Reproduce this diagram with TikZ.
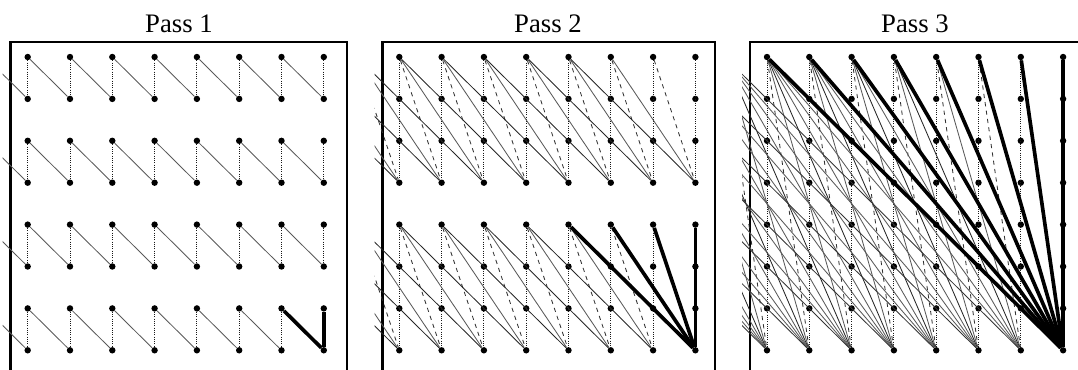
\documentclass[tikz,border=0pt]{standalone}
\usepackage{fontspec}
\setmainfont{Liberation Serif}

\begin{document}
\begin{tikzpicture}[x=0.025cm, y=-0.025cm,
    dot/.style={circle, fill=black, inner sep=0pt, minimum size=0.16cm},
    frame/.style={draw, line width=1.6pt},
    title/.style={font=\fontsize{19}{22}\selectfont},
    wire/.style={line width=0.6pt, black!65},
    lane0/.style={densely dotted, black!90},
    lane1/.style={dashed, black!80},
    lane2/.style={}, lane3/.style={black!85}, lane4/.style={},
    lane5/.style={}, lane6/.style={}, lane7/.style={black!80},
    hot/.style={line width=2.6pt, black},
  ]
  \clip (0,0) rectangle (1078,369);

  \foreach \pass/\colx/\fl/\fr/\tx in {1/27.7/10.5/347/179, 2/399.3/382.5/715/548, 3/767/750/1087/915} {
    \node[title] (title\pass) at (\tx,24) {Pass \pass};
    \draw[frame] (\fl,42) rectangle (\fr,372);
    \pgfmathtruncatemacro\hgt{2^\pass}
    \pgfmathtruncatemacro\last{8/\hgt-1}
    \pgfmathtruncatemacro\lagmax{\hgt-1}
    \pgfmathtruncatemacro\ghost{2-\hgt}
    \begin{scope}
      \ifnum\pass=1 \tikzset{lane1/.style={}}\fi
      \clip (\fl-8,30) rectangle (\fr,380);
      \foreach \grp in {0,...,\last} {
        \pgfmathtruncatemacro\rtop{\grp*\hgt+1}
        \pgfmathtruncatemacro\rbot{\grp*\hgt+\hgt}
        % dots of the group, ghost columns on the left
        \foreach \row in {\rtop,...,\rbot}
          \foreach \col in {1,...,8}
            \node[dot] (p\pass-\row-\col) at ({\colx+42.3*(\col-1)}, {57+41.9*(\row-1)}) {};
        \foreach \col in {\ghost,...,0}
          \coordinate (p\pass-\rtop-\col) at ({\colx+42.3*(\col-1)}, {57+41.9*(\rtop-1)});
        % links into each bottom dot
        \foreach \dst in {1,...,8}
          \foreach \lag in {0,...,\lagmax} {
            \pgfmathtruncatemacro\src{\dst-\lag}
            \draw[wire, lane\lag] (p\pass-\rtop-\src) -- (p\pass-\rbot-\dst);
          }
      }
      % last group, last column
      \pgfmathtruncatemacro\rtop{9-\hgt}
      \foreach \lag in {0,...,\lagmax} {
        \pgfmathtruncatemacro\src{8-\lag}
        \draw[hot] (p\pass-\rtop-\src) -- (p\pass-8-8);
      }
    \end{scope}
  }
\end{tikzpicture}
\end{document}
